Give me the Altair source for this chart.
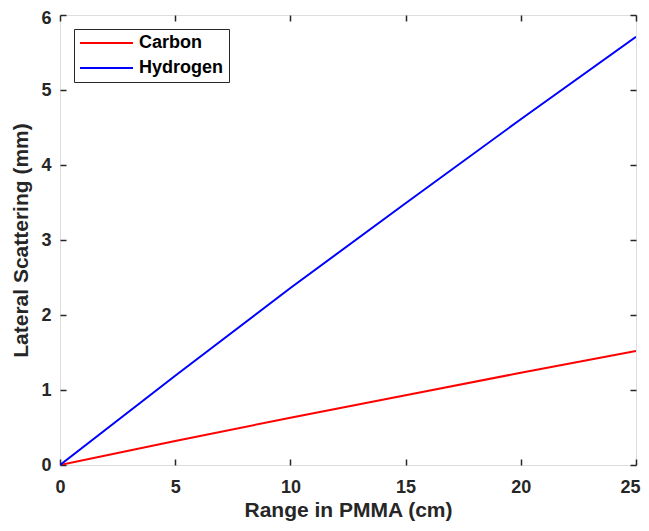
import altair as alt
import pandas as pd

# ---- data ----
range_cm = [0, 5, 10, 15, 20, 25]
carbon = [0.0, 0.32, 0.63, 0.93, 1.23, 1.52]
hydrogen = [0.0, 1.19, 2.36, 3.49, 4.61, 5.71]
series_names = ["Carbon", "Hydrogen"]
series_colors = ["#FF0000", "#0000FF"]
x_ticks = [0, 5, 10, 15, 20, 25]
y_ticks = [0, 1, 2, 3, 4, 5, 6]

rows = []
for name, vals in zip(series_names, [carbon, hydrogen]):
    for xv, yv in zip(range_cm, vals):
        rows.append({"range": xv, "value": yv, "series": name})
df = pd.DataFrame(rows)

FONT = "Liberation Sans"
INK = "#262626"

xs = alt.Scale(domain=[0, 25], nice=False, zero=False)
ys = alt.Scale(domain=[0, 6], nice=False, zero=False)

lines = alt.Chart(df).mark_line(strokeWidth=2, clip=True).encode(
    x=alt.X("range:Q", scale=xs, axis=alt.Axis(
        orient="bottom", values=x_ticks, title="Range in PMMA (cm)", ticks=False, domain=False,
        grid=False, labelPadding=13, titlePadding=3, labelFontSize=18,
        labelFont=FONT, labelFontWeight="bold", labelColor=INK,
        labelOffset={"condition": {"test": "datum.value >= 25", "value": -6}, "value": 0},
        titleFont=FONT, titleFontWeight="bold", titleColor=INK,
        titleFontSize=21, labelFlush=False)),
    y=alt.Y("value:Q", scale=ys, axis=alt.Axis(
        orient="left", values=y_ticks, title="Lateral Scattering (mm)", ticks=False, domain=False,
        grid=False, labelPadding=9, titlePadding=9, labelFontSize=18,
        labelFont=FONT, labelFontWeight="bold", labelColor=INK,
        labelOffset={"condition": {"test": "datum.value >= 6", "value": 3}, "value": 0},
        titleFont=FONT, titleFontWeight="bold", titleColor=INK,
        titleFontSize=21, labelFlush=False)),
    color=alt.Color("series:N", scale=alt.Scale(domain=series_names, range=series_colors),
                    legend=alt.Legend(
                        title=None, orient="none", legendX=14, legendY=14,
                        symbolType="stroke", symbolSize=2809, symbolStrokeWidth=2,
                        labelFont=FONT, labelFontSize=18, labelFontWeight="bold",
                        labelColor="#000000", strokeColor=INK, fillColor="white",
                        padding=5, rowPadding=7, labelOffset=5, clipHeight=18)),
)


def tick_layer(xorient, yorient):
    return alt.Chart(df).mark_point(opacity=0).encode(
        x=alt.X("range:Q", scale=xs, axis=alt.Axis(
            orient=xorient, values=x_ticks, labels=False, title=None, domain=False,
            grid=False, ticks=True, tickSize=6, offset=-6, tickColor=INK, tickWidth=1.5)),
        y=alt.Y("value:Q", scale=ys, axis=alt.Axis(
            orient=yorient, values=y_ticks, labels=False, title=None, domain=False,
            grid=False, ticks=True, tickSize=6, offset=-6, tickColor=INK, tickWidth=1.5)),
    )


chart = alt.layer(lines, tick_layer("bottom", "left"), tick_layer("top", "right")).resolve_scale(
    x="independent", y="independent"
).properties(
    width=576, height=450,
    autosize=alt.AutoSizeParams(type="none"),
    padding={"left": 52, "top": 7, "right": 5, "bottom": 58},
).configure_view(
    stroke=INK, strokeWidth=1.5
).configure(background="white")

chart.save("out.html", embed_options={"renderer": "svg", "actions": False})
